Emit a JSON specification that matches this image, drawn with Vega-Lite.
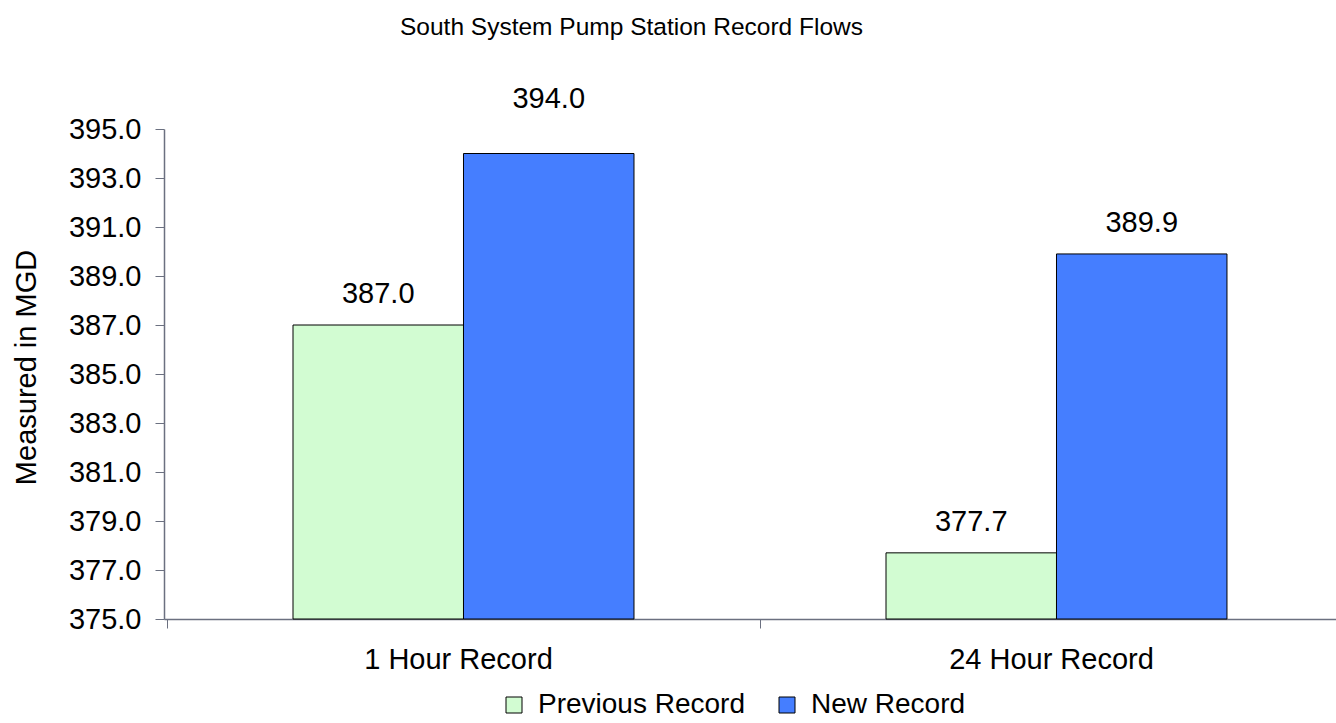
{
  "$schema": "https://vega.github.io/schema/vega-lite/v6.json",
  "width": 1172,
  "height": 490,
  "autosize": {"type": "none"},
  "padding": {"left": 164, "top": 129, "right": 0, "bottom": 104},
  "background": "white",
  "config": {
    "font": "Liberation Sans",
    "view": {"stroke": null},
    "axis": {"labelColor": "black", "titleColor": "black", "labelFont": "Liberation Sans", "titleFont": "Liberation Sans", "titleFontWeight": "normal"}
  },
  "title": {
    "text": "South System Pump Station Record Flows",
    "anchor": "start",
    "frame": "group",
    "dx": 236,
    "fontSize": 24.5,
    "fontWeight": "normal",
    "color": "black",
    "baseline": "alphabetic",
    "offset": 25
  },
  "data": {
    "values": [
      {"category": "1 Hour Record", "series": "Previous Record", "value": 387.0},
      {"category": "1 Hour Record", "series": "New Record", "value": 394.0},
      {"category": "24 Hour Record", "series": "Previous Record", "value": 377.7},
      {"category": "24 Hour Record", "series": "New Record", "value": 389.9}
    ]
  },
  "encoding": {
    "x": {
      "field": "category",
      "type": "nominal",
      "sort": ["1 Hour Record", "24 Hour Record"],
      "scale": {"paddingInner": 0.425, "paddingOuter": 0.2007, "align": 0.542},
      "axis": {
        "title": null,
        "labelAngle": 0,
        "labelFontSize": 29,
        "labelLimit": 0,
        "labelPadding": 17,
        "tickBand": "center",
        "tickOffset": -296.5,
        "labelOffset": 291,
        "tickSize": 9,
        "tickColor": "#6B7080",
        "domainColor": "#6B7080",
        "domainWidth": 1.5
      }
    },
    "xOffset": {"field": "series", "type": "nominal", "sort": ["Previous Record", "New Record"], "scale": {"paddingInner": 0, "paddingOuter": 0}},
    "y": {
      "field": "value",
      "type": "quantitative",
      "scale": {"domain": [375, 395], "zero": false, "nice": false},
      "axis": {
        "title": "Measured in MGD",
        "titleFontSize": 29,
        "titleX": -123,
        "titleY": 238,
        "values": [375, 377, 379, 381, 383, 385, 387, 389, 391, 393, 395],
        "format": ".1f",
        "labelFontSize": 29,
        "labelPadding": 14,
        "tickSize": 9,
        "tickColor": "#6B7080",
        "domainColor": "#6B7080",
        "domainWidth": 1.5,
        "grid": false
      }
    }
  },
  "layer": [
    {
      "mark": {"type": "bar", "stroke": "black", "strokeWidth": 1},
      "encoding": {
        "y2": {"datum": 375},
        "color": {
          "field": "series",
          "type": "nominal",
          "sort": ["Previous Record", "New Record"],
          "scale": {"domain": ["Previous Record", "New Record"], "range": ["#D2FCD2", "#457EFF"]},
          "legend": {
            "title": null,
            "orient": "none",
            "direction": "horizontal",
            "legendX": 336,
            "legendY": 562,
            "symbolType": "square",
            "symbolSize": 256,
            "symbolStrokeColor": "black",
            "symbolStrokeWidth": 1,
            "symbolOpacity": 1,
            "labelFontSize": 28,
            "labelLimit": 0,
            "labelColor": "black",
            "labelOffset": 10,
            "columnPadding": 28
          }
        }
      }
    },
    {
      "transform": [{"filter": "datum.value < 394"}],
      "mark": {"type": "text", "dy": -22, "baseline": "alphabetic", "fontSize": 29, "color": "black"},
      "encoding": {
        "text": {"field": "value", "type": "quantitative", "format": ".1f"}
      }
    },
    {
      "transform": [{"filter": "datum.value >= 394"}],
      "mark": {"type": "text", "dy": -46, "baseline": "alphabetic", "fontSize": 29, "color": "black"},
      "encoding": {
        "text": {"field": "value", "type": "quantitative", "format": ".1f"}
      }
    }
  ]
}
